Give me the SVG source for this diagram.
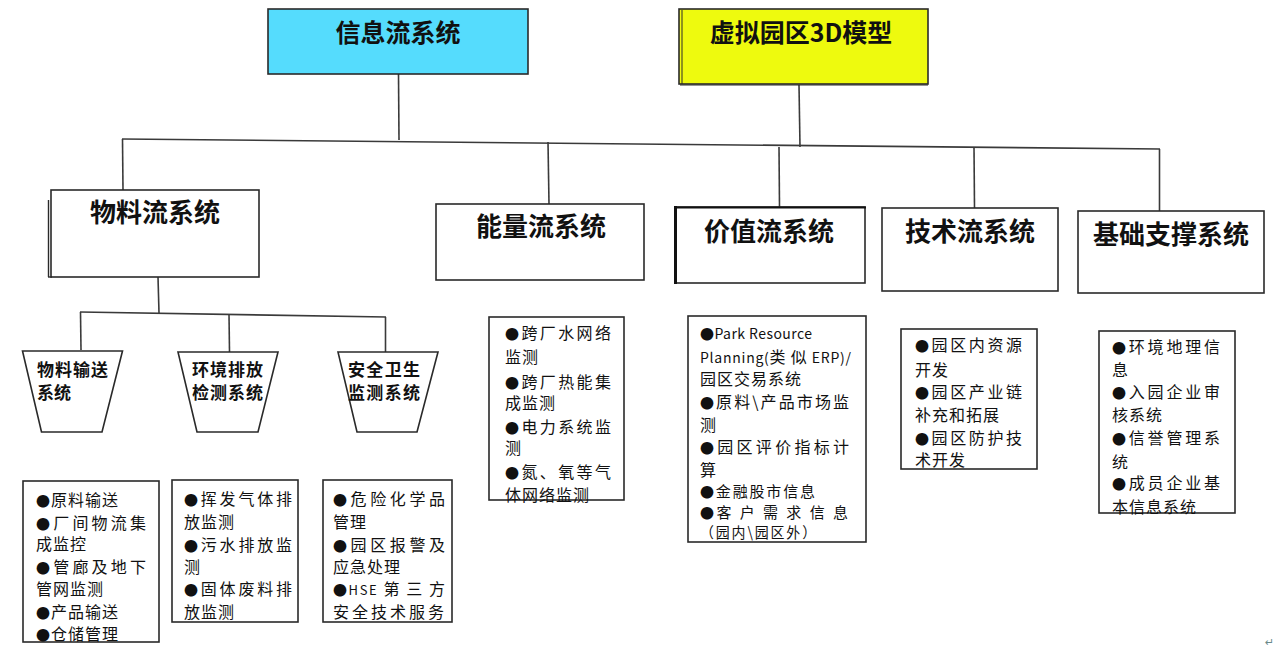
<svg xmlns="http://www.w3.org/2000/svg" width="1279" height="647" viewBox="0 0 1279 647">
<style>
.box{fill:#fff;stroke:#2a2a2a;stroke-width:1.6}
.ln{fill:none;stroke:#3a3a3a;stroke-width:1.6}
.title{font-family:"Noto Sans CJK SC","Liberation Sans",sans-serif;font-weight:bold;font-size:25px;fill:#111;text-anchor:middle}
.sub{font-family:"Noto Sans CJK SC","Liberation Sans",sans-serif;font-weight:bold;font-size:17px;fill:#111}
.t{font-family:"Noto Sans CJK SC","Liberation Sans",sans-serif;font-size:16px;letter-spacing:1px;fill:#111}
.s{font-size:15px;letter-spacing:2px}
.b{font-size:14px}
.lat{font-size:14px}
.mark{font-family:"DejaVu Sans",sans-serif;font-size:11px;fill:#6a8a8a}
</style>
<rect width="1279" height="647" fill="#fff"/>

<g id="connectors">
  <line class="ln" x1="398.5" y1="74" x2="399" y2="140"/>
  <line class="ln" x1="799" y1="85" x2="800" y2="147"/>
  <line class="ln" x1="122" y1="139" x2="1160" y2="149"/>
  <line class="ln" x1="122.5" y1="139" x2="123" y2="190"/>
  <line class="ln" x1="548" y1="142" x2="549" y2="204"/>
  <line class="ln" x1="779" y1="147" x2="779.5" y2="207"/>
  <line class="ln" x1="974" y1="147" x2="974.5" y2="208"/>
  <line class="ln" x1="1159.5" y1="149" x2="1159.5" y2="211"/>
  <line class="ln" x1="158" y1="277" x2="159" y2="313"/>
  <line class="ln" x1="80" y1="312" x2="386" y2="317"/>
  <line class="ln" x1="80.5" y1="312" x2="81" y2="350"/>
  <line class="ln" x1="229" y1="314" x2="229.5" y2="352"/>
  <line class="ln" x1="385.5" y1="317" x2="385.5" y2="352"/>
</g>

<g id="info">
  <rect x="268" y="9" width="260" height="65" fill="#55dcfd" stroke="#2a2a2a" stroke-width="1.6"/>
  <text class="title" x="398" y="42">信息流系统</text>
</g>

<g id="model3d">
  <rect x="679" y="9" width="249" height="75" fill="#eefa0e" stroke="#2a2a2a" stroke-width="1.6"/>
  <line x1="682" y1="10" x2="682" y2="84" stroke="#2a2a2a" stroke-width="1"/>
  <line x1="680" y1="85" x2="928" y2="85" stroke="#2a2a2a" stroke-width="1.2"/>
  <text class="title" x="801" y="42">虚拟园区3D模型</text>
</g>

<g id="wuliao">
  <rect class="box" x="51" y="190" width="208" height="87"/>
  <line x1="48.5" y1="200" x2="48.5" y2="277" stroke="#2a2a2a" stroke-width="1.4"/>
  <line x1="48" y1="277" x2="52" y2="277" stroke="#2a2a2a" stroke-width="1.4"/>
  <text class="title" x="155" y="222" style="font-size:26px">物料流系统</text>
</g>

<g id="nengliang">
  <rect class="box" x="436" y="204" width="208" height="76"/>
  <text class="title" x="541" y="236" style="font-size:26px">能量流系统</text>
</g>

<g id="jiazhi">
  <rect class="box" x="675" y="207" width="190" height="76"/>
  <line x1="675.5" y1="206" x2="675.5" y2="284" stroke="#111" stroke-width="3"/>
  <line x1="674" y1="207.5" x2="866" y2="207.5" stroke="#111" stroke-width="2.2"/>
  <text class="title" x="769" y="241" style="font-size:26px">价值流系统</text>
</g>

<g id="jishu">
  <rect class="box" x="882" y="208" width="176" height="83"/>
  <text class="title" x="970" y="241" style="font-size:26px">技术流系统</text>
</g>

<g id="jichu">
  <rect class="box" x="1078" y="211" width="186" height="82"/>
  <text class="title" x="1171" y="244" style="font-size:26px">基础支撑系统</text>
</g>

<g id="trap1">
  <polygon class="box" points="22.5,351 122.5,351 102,432 41.5,432"/>
  <text class="sub" x="37" y="376" textLength="71">物料输送</text>
  <text class="sub" x="37" y="399">系统</text>
</g>
<g id="trap2">
  <polygon class="box" points="178,352 278,352 258,432 197,432"/>
  <text class="sub" x="192" y="376" textLength="71">环境排放</text>
  <text class="sub" x="192" y="399" textLength="71">检测系统</text>
</g>
<g id="trap3">
  <polygon class="box" points="338,352 438,352 417,432 357,432"/>
  <text class="sub" x="348" y="376" textLength="72">安全卫生</text>
  <text class="sub" x="348" y="399" textLength="72">监测系统</text>
</g>

<g id="list1">
  <rect class="box" x="23" y="481" width="136" height="161"/>
  <text class="t" x="36" y="506"><tspan class="b">●</tspan>原料输送</text>
  <text class="t" x="36" y="529" textLength="111" lengthAdjust="spacing"><tspan class="b">●</tspan>厂间物流集</text>
  <text class="t" x="36" y="550">成监控</text>
  <text class="t" x="36" y="573" textLength="111" lengthAdjust="spacing"><tspan class="b">●</tspan>管廊及地下</text>
  <text class="t" x="36" y="595">管网监测</text>
  <text class="t" x="36" y="618"><tspan class="b">●</tspan>产品输送</text>
  <text class="t" x="36" y="640"><tspan class="b">●</tspan>仓储管理</text>
</g>

<g id="list2">
  <rect class="box" x="172" y="480" width="126" height="142"/>
  <text class="t" x="184" y="505" textLength="109" lengthAdjust="spacing"><tspan class="b">●</tspan>挥发气体排</text>
  <text class="t" x="184" y="528">放监测</text>
  <text class="t" x="184" y="551" textLength="109" lengthAdjust="spacing"><tspan class="b">●</tspan>污水排放监</text>
  <text class="t" x="184" y="573">测</text>
  <text class="t" x="184" y="595" textLength="109" lengthAdjust="spacing"><tspan class="b">●</tspan>固体废料排</text>
  <text class="t" x="184" y="618">放监测</text>
</g>

<g id="list3">
  <rect class="box" x="323" y="480" width="129" height="142"/>
  <text class="t" x="333" y="505" textLength="113" lengthAdjust="spacing"><tspan class="b">●</tspan>危险化学品</text>
  <text class="t" x="333" y="528">管理</text>
  <text class="t" x="333" y="551" textLength="113" lengthAdjust="spacing"><tspan class="b">●</tspan>园区报警及</text>
  <text class="t" x="333" y="573">应急处理</text>
  <text class="t" x="333" y="595" textLength="113" lengthAdjust="spacing"><tspan class="b">●</tspan><tspan style="font-size:13px">HSE</tspan> 第 三 方</text>
  <text class="t" x="333" y="618" textLength="112" lengthAdjust="spacing">安全技术服务</text>
</g>

<g id="list-energy">
  <rect class="box" x="489" y="317" width="135" height="183"/>
  <text class="t" x="505" y="339" textLength="107" lengthAdjust="spacing"><tspan class="b">●</tspan>跨厂水网络</text>
  <text class="t" x="505" y="363">监测</text>
  <text class="t" x="505" y="388" textLength="107" lengthAdjust="spacing"><tspan class="b">●</tspan>跨厂热能集</text>
  <text class="t" x="505" y="409">成监测</text>
  <text class="t" x="505" y="433" textLength="107" lengthAdjust="spacing"><tspan class="b">●</tspan>电力系统监</text>
  <text class="t" x="505" y="454">测</text>
  <text class="t" x="505" y="478" textLength="107" lengthAdjust="spacing"><tspan class="b">●</tspan>氮、氧等气</text>
  <text class="t" x="505" y="501">体网络监测</text>
</g>

<g id="list-value">
  <rect class="box" x="688" y="316" width="178" height="226"/>
  <text class="t" x="700" y="339" textLength="113" lengthAdjust="spacing"><tspan class="b">●</tspan><tspan class="lat">Park Resource</tspan></text>
  <text class="t" x="700" y="363" textLength="152" lengthAdjust="spacing"><tspan class="lat">Planning(</tspan>类 似 <tspan class="lat">ERP)/</tspan></text>
  <text class="t" x="700" y="385">园区交易系统</text>
  <text class="t" x="700" y="408" textLength="150" lengthAdjust="spacing"><tspan class="b">●</tspan>原料\产品市场监</text>
  <text class="t" x="700" y="431">测</text>
  <text class="t" x="700" y="453" textLength="150" lengthAdjust="spacing"><tspan class="b">●</tspan>园区评价指标计</text>
  <text class="t" x="700" y="476">算</text>
  <text class="t s" x="700" y="497" textLength="117" lengthAdjust="spacing"><tspan class="b">●</tspan>金融股市信息</text>
  <text class="t s" x="700" y="518" textLength="150" lengthAdjust="spacing"><tspan class="b">●</tspan>客 户 需 求 信 息</text>
  <text class="t s" x="700" y="538" textLength="118" lengthAdjust="spacingAndGlyphs">（园内\园区外）</text>
</g>

<g id="list-tech">
  <rect class="box" x="901" y="329" width="136" height="140"/>
  <text class="t" x="915" y="351" textLength="108" lengthAdjust="spacing"><tspan class="b">●</tspan>园区内资源</text>
  <text class="t" x="915" y="376">开发</text>
  <text class="t" x="915" y="398" textLength="108" lengthAdjust="spacing"><tspan class="b">●</tspan>园区产业链</text>
  <text class="t" x="915" y="421">补充和拓展</text>
  <text class="t" x="915" y="444" textLength="108" lengthAdjust="spacing"><tspan class="b">●</tspan>园区防护技</text>
  <text class="t" x="915" y="466">术开发</text>
</g>

<g id="list-base">
  <rect class="box" x="1099" y="331" width="136" height="182"/>
  <text class="t" x="1112" y="353" textLength="109" lengthAdjust="spacing"><tspan class="b">●</tspan>环境地理信</text>
  <text class="t" x="1112" y="376">息</text>
  <text class="t" x="1112" y="398" textLength="109" lengthAdjust="spacing"><tspan class="b">●</tspan>入园企业审</text>
  <text class="t" x="1112" y="421">核系统</text>
  <text class="t" x="1112" y="444" textLength="109" lengthAdjust="spacing"><tspan class="b">●</tspan>信誉管理系</text>
  <text class="t" x="1112" y="468">统</text>
  <text class="t" x="1112" y="489" textLength="109" lengthAdjust="spacing"><tspan class="b">●</tspan>成员企业基</text>
  <text class="t" x="1112" y="513">本信息系统</text>
</g>

<text class="mark" x="1265" y="646">↵</text>
</svg>
